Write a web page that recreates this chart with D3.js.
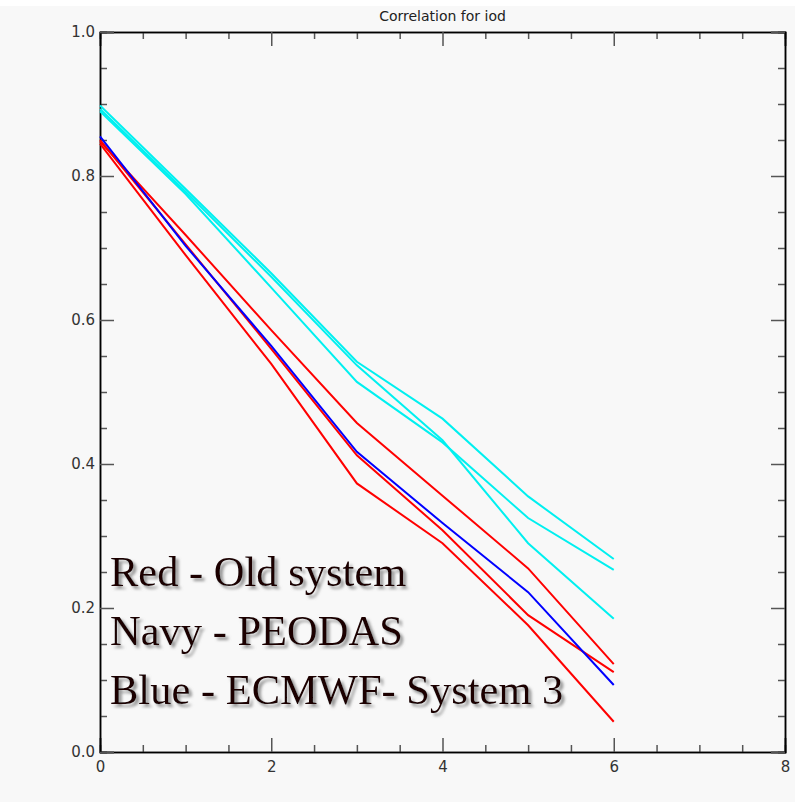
<!DOCTYPE html>
<html lang="en">
  <head>
    <meta charset="UTF-8" />
    <title>Correlation for iod</title>
    <script src="https://d3js.org/d3.v7.min.js"></script>
    <style>
      body {
        margin: 0;
        background: #f8f8f8;
      }
      .axis text {
        font-family: "DejaVu Sans", sans-serif;
        font-size: 15px;
        fill: #333;
      }
      .axis path {
        stroke: #000;
        stroke-width: 1.5;
      }
      .axis line {
        stroke: #555;
        stroke-width: 1.5;
      }
      .legend-text {
        font-family: "Liberation Serif", "Times New Roman", serif;
        font-size: 42.5px;
      }
    </style>
  </head>
  <body>
    <svg id="chart" width="795" height="802"></svg>

    <script>
      // lead time (x) for every series
      const leads = [0, 1, 2, 3, 4, 5, 6];

      // old system (red)
      const oldA = [0.848, 0.718, 0.586, 0.457, 0.356, 0.255, 0.122];
      const oldB = [0.85, 0.705, 0.56, 0.412, 0.308, 0.19, 0.111];
      const oldC = [0.845, 0.69, 0.539, 0.373, 0.29, 0.176, 0.042];
      // PEODAS (blue)
      const peodas = [0.855, 0.703, 0.564, 0.417, 0.318, 0.222, 0.093];
      // ECMWF System 3 (cyan)
      const ecA = [0.898, 0.782, 0.665, 0.542, 0.463, 0.355, 0.268];
      const ecB = [0.893, 0.778, 0.66, 0.537, 0.433, 0.29, 0.185];
      const ecC = [0.89, 0.775, 0.645, 0.514, 0.43, 0.325, 0.253];

      const xMajor = [0, 2, 4, 6, 8];
      const yMajor = [0, 0.2, 0.4, 0.6, 0.8, 1.0];
      const legendLines = ["Red - Old system", "Navy - PEODAS", "Blue - ECMWF- System 3"];

      const series = [
        { values: ecA, color: "#00f0f0" },
        { values: ecB, color: "#00f0f0" },
        { values: ecC, color: "#00f0f0" },
        { values: oldA, color: "#ff0000" },
        { values: oldB, color: "#ff0000" },
        { values: oldC, color: "#ff0000" },
        { values: peodas, color: "#0000ff" },
      ];

      const svg = d3.select("#chart");
      const margin = { top: 32, right: 10, bottom: 50, left: 100 };
      const width = 785 - margin.left;
      const height = 752 - margin.top;

      svg.append("rect").attr("width", 795).attr("height", 6).attr("fill", "#fff");

      const g = svg
        .append("g")
        .attr("transform", `translate(${margin.left},${margin.top})`);

      const x = d3.scaleLinear().domain([0, 8]).range([0, width]);
      const y = d3.scaleLinear().domain([0, 1]).range([height, 0]);

      const xMinor = d3.range(0, 8.01, 0.5).filter((d) => d % 2 !== 0);
      const yMinor = d3.range(0, 1.001, 0.05).filter((d) => Math.abs(d * 5 - Math.round(d * 5)) > 1e-6);

      // minor ticks (inward)
      g.append("g")
        .attr("class", "axis")
        .attr("transform", `translate(0,${height})`)
        .call(d3.axisBottom(x).tickValues(xMinor).tickSize(-7).tickFormat(""));
      g.append("g")
        .attr("class", "axis")
        .call(d3.axisTop(x).tickValues(xMinor).tickSize(-7).tickFormat(""));
      g.append("g")
        .attr("class", "axis")
        .call(d3.axisLeft(y).tickValues(yMinor).tickSize(-7).tickFormat(""));
      g.append("g")
        .attr("class", "axis")
        .attr("transform", `translate(${width},0)`)
        .call(d3.axisRight(y).tickValues(yMinor).tickSize(-7).tickFormat(""));

      // major ticks with labels
      g.append("g")
        .attr("class", "axis")
        .attr("transform", `translate(0,${height})`)
        .call(d3.axisBottom(x).tickValues(xMajor).tickSize(-14).tickPadding(9).tickFormat(d3.format("d")));
      g.append("g")
        .attr("class", "axis")
        .call(d3.axisTop(x).tickValues(xMajor).tickSize(-14).tickFormat(""));
      g.append("g")
        .attr("class", "axis")
        .call(d3.axisLeft(y).tickValues(yMajor).tickSize(-14).tickPadding(5).tickFormat(d3.format(".1f")));
      g.append("g")
        .attr("class", "axis")
        .attr("transform", `translate(${width},0)`)
        .call(d3.axisRight(y).tickValues(yMajor).tickSize(-14).tickFormat(""));

      g.selectAll(".axis .domain").attr("stroke", "#000");

      // lines
      const line = d3
        .line()
        .x((d, i) => x(leads[i]))
        .y((d) => y(d));

      g.selectAll(".series")
        .data(series)
        .enter()
        .append("path")
        .attr("class", "series")
        .attr("fill", "none")
        .attr("stroke", (d) => d.color)
        .attr("stroke-width", 2)
        .attr("d", (d) => line(d.values));

      // title
      svg
        .append("text")
        .attr("x", margin.left + width / 2)
        .attr("y", 21)
        .attr("text-anchor", "middle")
        .style("font-family", "DejaVu Sans, sans-serif")
        .style("font-size", "14px")
        .style("fill", "#222")
        .text("Correlation for iod");

      // legend text with soft drop shadow
      const shadow = svg
        .append("defs")
        .append("filter")
        .attr("id", "shadow")
        .attr("x", "-5%")
        .attr("y", "-20%")
        .attr("width", "115%")
        .attr("height", "150%");
      shadow
        .append("feDropShadow")
        .attr("dx", 3)
        .attr("dy", 3)
        .attr("stdDeviation", 1.5)
        .attr("flood-color", "#888")
        .attr("flood-opacity", 0.9);

      svg
        .append("g")
        .selectAll("text")
        .data(legendLines)
        .enter()
        .append("text")
        .attr("class", "legend-text")
        .attr("x", 110)
        .attr("y", (d, i) => 586 + i * 59)
        .attr("fill", "#1c0404")
        .attr("filter", "url(#shadow)")
        .text((d) => d);
    </script>
  </body>
</html>
